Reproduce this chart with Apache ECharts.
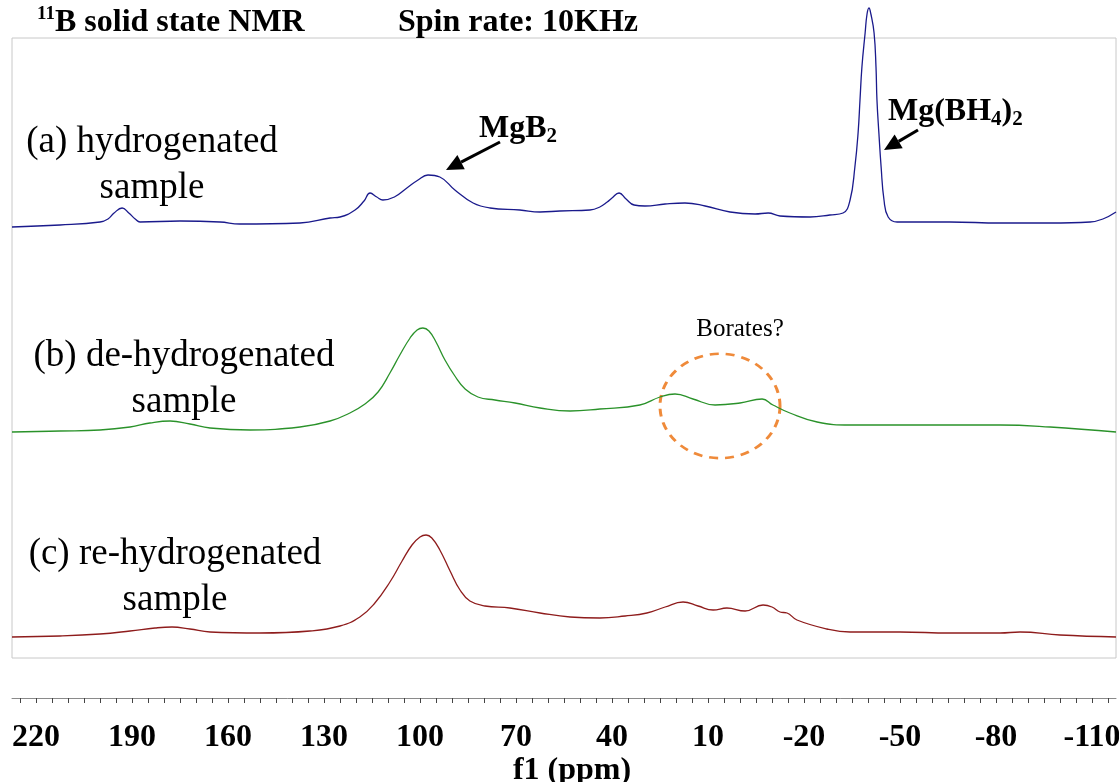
<!DOCTYPE html>
<html><head><meta charset="utf-8">
<script src="https://cdn.jsdelivr.net/npm/echarts@6/dist/echarts.min.js"></script>
<style>html,body{margin:0;padding:0;background:#fff}#c{width:1119px;height:782px}</style>
</head><body><div id="c"></div>
<script>
// ---- data (chemical shift in ppm, intensity in arbitrary units) ----
const ppmA = [227.5, 212.5, 200.0, 197.5, 195.6, 193.1, 191.0, 189.0, 187.5, 175.0, 162.5, 156.3, 137.5, 128.1, 125.0, 120.3, 117.5, 115.6, 113.5, 111.6, 108.0, 104.1, 100.6, 97.5, 93.8, 89.1, 83.4, 78.1, 68.8, 62.5, 56.3, 46.9, 43.8, 41.5, 40.0, 37.8, 35.6, 33.1, 29.7, 23.4, 17.2, 10.9, 3.1, -4.7, -8.8, -12.5, -21.9, -28.1, -32.2, -34.4, -35.9, -36.9, -37.5, -38.1, -39.1, -39.7, -40.3, -40.9, -41.9, -42.5, -42.8, -43.4, -44.1, -45.0, -46.3, -49.1, -65.6, -81.3, -96.9, -109.4, -113.4, -117.5];
const intA = [0, 2, 5, 8, 14, 19, 14, 8, 5, 6, 5, 3, 4, 9, 10, 17, 26, 34, 30, 27, 30, 39, 47, 52, 50, 37, 24, 19, 17, 15, 16, 17, 20, 25, 29, 34, 28, 22, 21, 23, 24, 21, 15, 13, 14, 11, 10, 12, 14, 27, 60, 94, 127, 160, 194, 213, 219, 213, 194, 160, 127, 94, 60, 27, 10, 5, 5, 4, 4, 5, 8, 15];

const ppmB = [227.5, 212.5, 200.0, 190.6, 184.4, 178.1, 171.9, 165.6, 153.1, 137.5, 128.1, 121.9, 117.2, 113.1, 109.4, 106.3, 103.1, 100.9, 99.1, 97.2, 95.0, 92.2, 89.1, 85.9, 81.9, 76.6, 70.3, 62.5, 53.1, 43.8, 31.3, 25.0, 20.3, 14.7, 7.8, 0.0, -6.9, -10.3, -15.6, -24.1, -34.4, -50.0, -65.6, -81.3, -96.9, -117.5];
const intB = [0, 1, 2, 5, 9, 11, 8, 4, 2, 5, 11, 19, 28, 40, 59, 77, 94, 102, 104, 101, 90, 72, 56, 43, 35, 32, 29, 24, 21, 23, 27, 35, 38, 33, 27, 29, 33, 27, 19, 10, 7, 7, 7, 7, 5, 0];

const ppmC = [227.5, 212.5, 200.0, 190.6, 182.8, 177.5, 171.9, 165.6, 150.0, 134.4, 125.0, 118.8, 114.1, 109.4, 105.6, 102.5, 100.0, 98.1, 96.3, 93.8, 90.6, 87.5, 84.4, 79.7, 71.9, 62.5, 53.1, 43.8, 35.9, 29.1, 23.4, 17.8, 13.1, 8.4, 4.1, -1.6, -7.2, -10.0, -12.5, -14.7, -17.8, -27.2, -34.4, -50.0, -65.6, -81.3, -87.5, -100.0, -117.5];
const intC = [0, 1, 3, 6, 9, 10, 8, 5, 4, 6, 11, 20, 34, 55, 76, 92, 100, 102, 99, 87, 66, 47, 36, 31, 29, 24, 20, 19, 21, 24, 30, 35, 31, 27, 29, 26, 32, 30, 25, 24, 17, 8, 5, 5, 4, 4, 5, 2, 0];

const tickLabels = [220, 190, 160, 130, 100, 70, 40, 10, -20, -50, -80, -110];
const seriesNames = ['(a) hydrogenated sample', '(b) de-hydrogenated sample', '(c) re-hydrogenated sample'];

// ---- layout / style ----
const X_MIN = -117.5, X_MAX = 227.5;
const OFFSETS = [431, 226, 21];          // vertical stacking of the three spectra
const COLORS = ['#1a1a8c', '#2a922a', '#8e1c1c'];
const SERIF = '"Liberation Serif","Times New Roman",serif';

const minorTicks = [];
for (let v = 225; v >= -115; v -= 5) minorTicks.push(v);

function build(ppm, vals, off) { return ppm.map((p, i) => [p, vals[i] + off]); }

function arrow(x1, y1, x2, y2) {
  const ang = Math.atan2(y2 - y1, x2 - x1), L = 17, W = 8;
  const bx = x2 - L * Math.cos(ang), by = y2 - L * Math.sin(ang);
  const nx = -Math.sin(ang) * W, ny = Math.cos(ang) * W;
  return [
    { type: 'line', silent: true, shape: { x1: x1, y1: y1, x2: bx, y2: by }, style: { stroke: '#000', lineWidth: 3 } },
    { type: 'polygon', silent: true, shape: { points: [[x2, y2], [bx + nx, by + ny], [bx - nx, by - ny]] }, style: { fill: '#000' } }
  ];
}

const chart = echarts.init(document.getElementById('c'), null, { renderer: 'canvas' });
const datasets = [[ppmA, intA], [ppmB, intB], [ppmC, intC]];

chart.setOption({
  animation: false,
  backgroundColor: '#fff',
  grid: [
    { left: 12, top: 38, width: 1104, height: 620, show: true, borderColor: '#c8c8c8', borderWidth: 1, backgroundColor: 'transparent', containLabel: false, outerBoundsMode: 'none' },
    { left: 12, top: 697, width: 1104, height: 1, show: false, containLabel: false, outerBoundsMode: 'none' }
  ],
  xAxis: [
    { type: 'value', gridIndex: 0, min: X_MIN, max: X_MAX, inverse: true, show: false },
    { type: 'value', gridIndex: 1, min: X_MIN, max: X_MAX, inverse: true,
      axisLine: { show: true, lineStyle: { color: '#8a8a8a', width: 1 } },
      axisTick: { show: true, customValues: minorTicks, length: 5, inside: false, lineStyle: { color: '#444', width: 1 } },
      axisLabel: { show: true, customValues: tickLabels, color: '#000', fontSize: 32, fontWeight: 'bold', fontFamily: SERIF, margin: 24 },
      splitLine: { show: false },
      name: 'f1 (ppm)', nameLocation: 'middle', nameGap: 56,
      nameTextStyle: { color: '#000', fontSize: 32, fontWeight: 'bold', fontFamily: SERIF, padding: [0, 0, 0, 16] }
    }
  ],
  yAxis: [
    { type: 'value', gridIndex: 0, min: 0, max: 620, show: false },
    { type: 'value', gridIndex: 1, min: 0, max: 1, show: false }
  ],
  series: datasets.map((d, i) => ({
    name: seriesNames[i], type: 'line', xAxisIndex: 0, yAxisIndex: 0,
    data: build(d[0], d[1], OFFSETS[i]),
    showSymbol: false, symbol: 'none', smooth: 0.45, clip: false, silent: true,
    lineStyle: { color: COLORS[i], width: 1.3 }
  })),
  graphic: [
    { type: 'text', silent: true, x: 37, y: 5, style: {
        text: '{sup|11}{m|B solid state NMR}', fill: '#000',
        rich: { sup: { fontSize: 19, fontWeight: 'bold', fontFamily: SERIF, lineHeight: 18, verticalAlign: 'top' },
                m: { fontSize: 32, fontWeight: 'bold', fontFamily: SERIF, lineHeight: 36 } } } },
    { type: 'text', silent: true, x: 398, y: 5, style: { text: 'Spin rate: 10KHz', fill: '#000', font: 'bold 32px ' + SERIF, verticalAlign: 'top', lineHeight: 36 } },
    { type: 'text', silent: true, x: 479, y: 111, style: {
        text: '{m|MgB}{s|2}', fill: '#000',
        rich: { m: { fontSize: 32, fontWeight: 'bold', fontFamily: SERIF, lineHeight: 36 },
                s: { fontSize: 21, fontWeight: 'bold', fontFamily: SERIF, lineHeight: 10, verticalAlign: 'bottom' } } } },
    { type: 'text', silent: true, x: 888, y: 94, style: {
        text: '{m|Mg(BH}{s|4}{m|)}{s|2}', fill: '#000',
        rich: { m: { fontSize: 32, fontWeight: 'bold', fontFamily: SERIF, lineHeight: 36 },
                s: { fontSize: 21, fontWeight: 'bold', fontFamily: SERIF, lineHeight: 10, verticalAlign: 'bottom' } } } },
    ...arrow(500, 142, 446, 170),
    ...arrow(918, 130, 884, 150),
    { type: 'text', silent: true, x: 740, y: 329, style: { text: 'Borates?', fill: '#000', font: '25px ' + SERIF, align: 'center', verticalAlign: 'middle' } },
    { type: 'circle', silent: true, x: 720, y: 406, scaleY: 0.87, shape: { cx: 0, cy: 0, r: 60 },
      style: { fill: 'none', stroke: '#ef8a3a', lineWidth: 3, lineDash: [9, 7], strokeNoScale: true } },
    { type: 'text', silent: true, x: 152, y: 119, style: { text: '(a) hydrogenated\nsample', fill: '#000', font: '37px ' + SERIF, align: 'center', verticalAlign: 'top', lineHeight: 46 } },
    { type: 'text', silent: true, x: 184, y: 333, style: { text: '(b) de-hydrogenated\nsample', fill: '#000', font: '37px ' + SERIF, align: 'center', verticalAlign: 'top', lineHeight: 46 } },
    { type: 'text', silent: true, x: 175, y: 531, style: { text: '(c) re-hydrogenated\nsample', fill: '#000', font: '37px ' + SERIF, align: 'center', verticalAlign: 'top', lineHeight: 46 } }
  ]
});
</script>
</body></html>
